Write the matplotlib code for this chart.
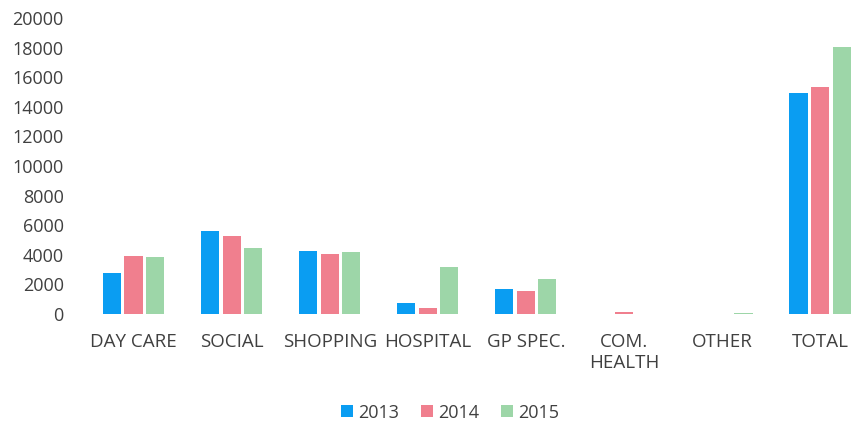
import matplotlib.pyplot as plt
import numpy as np

categories = ['DAY CARE', 'SOCIAL', 'SHOPPING', 'HOSPITAL', 'GP SPEC.', 'COM.\nHEALTH', 'OTHER', 'TOTAL']
years = ['2013', '2014', '2015']
v2013 = [2770, 5610, 4280, 770, 1670, 0, 0, 14960]
v2014 = [3920, 5290, 4060, 380, 1530, 150, 0, 15320]
v2015 = [3850, 4460, 4170, 3160, 2390, 0, 100, 18030]
colors = ['#0a9df2', '#f07f8e', '#9dd6a8']

plt.rcParams['font.family'] = ['Open Sans', 'DejaVu Sans']

fig = plt.figure(figsize=(8.54, 4.26), dpi=100)
ax = fig.add_axes([84.5/854, 112/426, 1 - 84.5/854, 296/426])

x = np.arange(len(categories))
w = 0.185
step = 0.22
for i, (vals, yr) in enumerate(zip([v2013, v2014, v2015], years)):
    ax.bar(x + (i - 1)*step, vals, width=w, color=colors[i], label=yr)

ax.set_xlim(-0.5, 7.346)
ax.set_ylim(0, 20000)
ax.set_yticks(range(0, 20001, 2000))
ax.set_xticks(x)
ax.set_xticklabels(categories)
for s in ax.spines.values():
    s.set_visible(False)
ax.tick_params(axis='both', length=0, colors='#404040')
ax.tick_params(axis='y', pad=15, labelsize=13)
ax.tick_params(axis='x', pad=14, labelsize=13.5)

fig.legend(loc='lower center', ncol=3, frameon=False, fontsize=13,
           handlelength=0.65, handleheight=0.65, handletextpad=0.3, columnspacing=1.2,
           bbox_to_anchor=(0.527, -0.028), labelcolor='#404040')

fig.savefig('out.png', dpi=100)
plt.close()
